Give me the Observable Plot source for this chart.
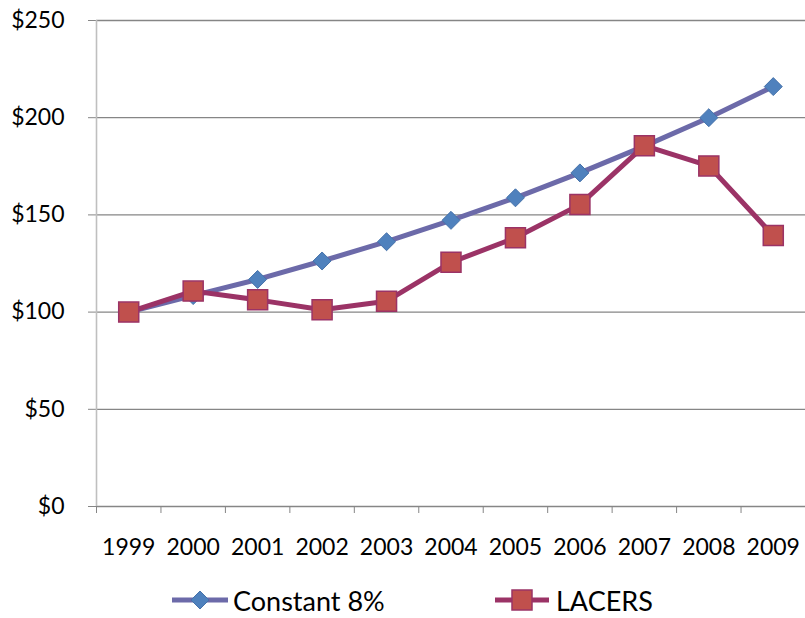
<!DOCTYPE html>
<html>
<head>
<meta charset="utf-8">
<script src="https://cdn.jsdelivr.net/npm/d3@7"></script>
<script src="https://cdn.jsdelivr.net/npm/@observablehq/plot@0.6"></script>
<style>
  body { margin: 0; background: #fff; font-family: Lato, "Open Sans", sans-serif; }
  #wrap { position: relative; width: 805px; height: 618px; }
  .leg { position: absolute; top: 585px; height: 30px; display: flex; align-items: center; font-size: 27px; line-height: 1; color: #000; }
  .leg svg { margin-right: 3px; }
</style>
</head>
<body>
<div id="wrap"></div>
<script>
const years = [1999, 2000, 2001, 2002, 2003, 2004, 2005, 2006, 2007, 2008, 2009];
const constant8 = [100, 108.5, 116.8, 126.3, 136.2, 147.2, 158.8, 171.6, 185.4, 200, 216];
const lacers = [100, 110.8, 106.3, 101.2, 105.6, 125.6, 138.2, 155.3, 185.6, 175.2, 139.4];
const yTicks = [0, 50, 100, 150, 200, 250];
const seriesNames = ["Constant 8%", "LACERS"];

const constData = years.map((y, i) => ({year: y, value: constant8[i]}));
const lacersData = years.map((y, i) => ({year: y, value: lacers[i]}));
const boundaries = years.map(y => y - 0.5).concat([years[years.length - 1] + 0.5]);

const plot = Plot.plot({
  width: 805,
  height: 585,
  marginLeft: 96,
  marginRight: 0,
  marginTop: 20,
  marginBottom: 79,
  style: {fontFamily: "Lato, 'Open Sans', sans-serif", fontSize: "23px", color: "#000", background: "#fff", overflow: "visible"},
  x: {domain: [1998.5, 2009.5]},
  y: {domain: [0, 250]},
  marks: [
    Plot.gridY(yTicks, {stroke: "#868686", strokeOpacity: 1, strokeWidth: 1.3}),
    Plot.axisY(yTicks, {tickSize: 8, tickPadding: 24, stroke: "#868686", tickFormat: d => "$" + d, fontSize: 23, fill: "#000", label: null}),
    Plot.ruleX([1998.5], {y1: 0, y2: 250, stroke: "#bfbfbf", strokeWidth: 1.6}),
    Plot.axisX(boundaries, {tickSize: 7, stroke: "#868686", tickFormat: () => "", label: null}),
    Plot.axisX(years, {tickSize: 0, tickPadding: 32, tickFormat: d => String(d), fontSize: 23, fill: "#000", label: null}),
    Plot.line(constData, {x: "year", y: "value", stroke: "#6c6aa9", strokeWidth: 5}),
    Plot.dot(constData, {x: "year", y: "value", symbol: "diamond2", r: 8.1, fill: "#4f81bd", stroke: "#4672aa", strokeWidth: 1}),
    Plot.line(lacersData, {x: "year", y: "value", stroke: "#9b3366", strokeWidth: 5}),
    Plot.dot(lacersData, {x: "year", y: "value", symbol: "square", r: 11.3, fill: "#c0504d", stroke: "#9b3366", strokeWidth: 1.5})
  ]
});

const wrap = document.getElementById("wrap");
wrap.appendChild(plot);

function legendItem(left, name, kind) {
  const div = document.createElement("div");
  div.className = "leg";
  div.style.left = left + "px";
  let sym;
  if (kind === "diamond") {
    sym = `<line x1="0" y1="15" x2="56" y2="15" stroke="#6c6aa9" stroke-width="5"/>
           <path d="M28,6 L37,15 L28,24 L19,15 Z" fill="#4f81bd" stroke="#4672aa" stroke-width="1"/>`;
  } else {
    sym = `<line x1="0" y1="15" x2="54" y2="15" stroke="#9b3366" stroke-width="5"/>
           <rect x="17" y="5" width="20" height="20" fill="#c0504d" stroke="#9b3366" stroke-width="1.5"/>`;
  }
  div.innerHTML = `<svg width="58" height="30">${sym}</svg><span>${name}</span>`;
  wrap.appendChild(div);
}
legendItem(172, seriesNames[0], "diamond");
legendItem(495, seriesNames[1], "square");
</script>
</body>
</html>
